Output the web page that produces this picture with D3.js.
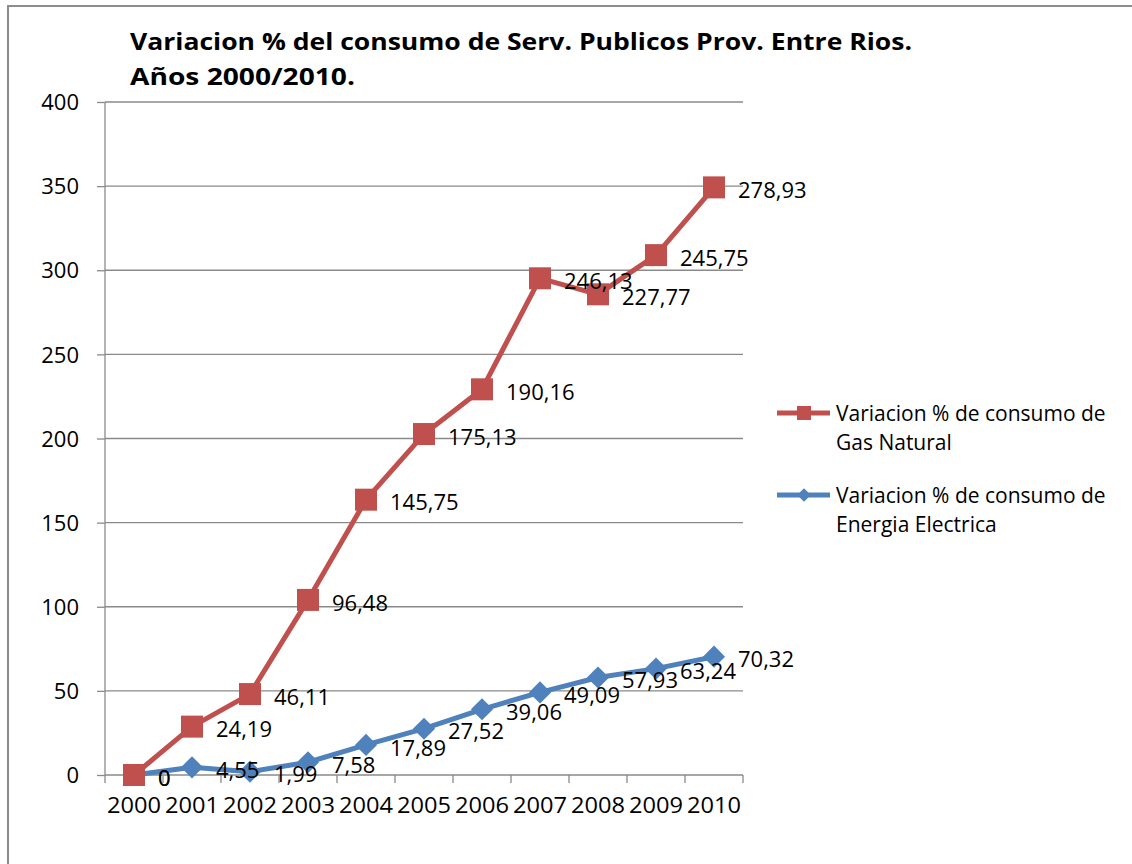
<!DOCTYPE html>
<html>
<head>
<meta charset="utf-8">
<script src="https://cdn.jsdelivr.net/npm/d3@7"></script>
<style>
  body { margin: 0; background: #fff; }
  svg text { font-family: "Open Sans", sans-serif; fill: #000; }
</style>
</head>
<body>
<svg></svg>
<script>
const years = ["2000", "2001", "2002", "2003", "2004", "2005", "2006", "2007", "2008", "2009", "2010"];
const gasNatural = [0, 24.19, 46.11, 96.48, 145.75, 175.13, 190.16, 246.13, 227.77, 245.75, 278.93];
const energiaElectrica = [0, 4.55, 1.99, 7.58, 17.89, 27.52, 39.06, 49.09, 57.93, 63.24, 70.32];
const yTicks = [0, 50, 100, 150, 200, 250, 300, 350, 400];
const seriesNames = ["Variacion % de consumo de|Gas Natural", "Variacion % de consumo de|Energia Electrica"];

const svgCanvas = d3.select("svg")
    .attr("width", 1132)
    .attr("height", 864);

// outer chart border (runs off the right and bottom edge)
svgCanvas.append("rect")
    .attr("x", 8).attr("y", 6)
    .attr("width", 1200).attr("height", 1000)
    .attr("fill", "none")
    .attr("stroke", "#8c8c8c")
    .attr("stroke-width", 2);

const plotLeft = 105, plotRight = 743, plotTop = 102, plotBottom = 775;

const x = d3.scaleBand().domain(years).range([plotLeft, plotRight]);
const y = d3.scaleLinear().domain([0, 400]).range([plotBottom, plotTop]);

// stacked line chart: gas sits on top of electricity
const table = years.map(function(yr, i) {
    return { year: yr, elec: energiaElectrica[i], gas: gasNatural[i] };
});
const stacked = d3.stack().keys(["elec", "gas"])(table);

// gridlines
svgCanvas.append("g")
    .selectAll("line")
    .data(yTicks.filter(function(t) { return t > 0; }))
    .join("line")
    .attr("x1", plotLeft).attr("x2", plotRight)
    .attr("y1", function(t) { return y(t); })
    .attr("y2", function(t) { return y(t); })
    .attr("stroke", "#8a8a8a")
    .attr("stroke-width", 1.3);

// y axis
const yAxis = svgCanvas.append("g")
    .attr("transform", "translate(" + plotLeft + ",0)")
    .call(d3.axisLeft(y).tickValues(yTicks).tickSize(8).tickPadding(18));
yAxis.selectAll("line, path").attr("stroke", "#8a8a8a").attr("stroke-width", 1.3);
yAxis.select("path").attr("d", "M0," + plotTop + "V" + plotBottom);
yAxis.selectAll("text").style("font-size", "22px").attr("dy", "0.35em");

// x axis
const xAxis = svgCanvas.append("g")
    .attr("transform", "translate(0," + plotBottom + ")")
    .call(d3.axisBottom(x).tickSize(0).tickPadding(22));
xAxis.select("path").attr("stroke", "#8a8a8a").attr("stroke-width", 1.3)
    .attr("d", "M" + plotLeft + ",0H" + plotRight);
xAxis.selectAll("text").style("font-size", "22px").attr("textLength", 54).attr("lengthAdjust", "spacingAndGlyphs");
xAxis.selectAll(".tick line").remove();
xAxis.selectAll(".edge")
    .data(years.map(function(yr) { return x(yr); }).concat([plotRight]))
    .join("line")
    .attr("class", "edge")
    .attr("x1", function(d) { return d; }).attr("x2", function(d) { return d; })
    .attr("y1", 0).attr("y2", 8)
    .attr("stroke", "#8a8a8a").attr("stroke-width", 1.3);

const cx = function(d) { return x(d.data.year) + x.bandwidth() / 2; };
const line = d3.line().x(cx).y(function(d) { return y(d[1]); });

const colors = { elec: "#4f81bd", gas: "#c0504d" };
const labelVals = { elec: energiaElectrica, gas: gasNatural };

// lines + markers, electricity first then gas on top
stacked.forEach(function(s) {
    svgCanvas.append("path")
        .datum(s)
        .attr("d", line)
        .attr("fill", "none")
        .attr("stroke", colors[s.key])
        .attr("stroke-width", 5)
        .attr("stroke-linejoin", "round");

    if (s.key === "gas") {
        svgCanvas.append("g").selectAll("rect")
            .data(s)
            .join("rect")
            .attr("x", function(d) { return cx(d) - 11; })
            .attr("y", function(d) { return y(d[1]) - 11; })
            .attr("width", 22).attr("height", 22)
            .attr("fill", colors.gas);
    } else {
        svgCanvas.append("g").selectAll("path")
            .data(s)
            .join("path")
            .attr("d", d3.symbol(d3.symbolSquare, 245))
            .attr("transform", function(d) { return "translate(" + cx(d) + "," + y(d[1]) + ") rotate(45)"; })
            .attr("fill", colors.elec);
    }
});

// data labels (show the series' own value, not the stacked total)
stacked.forEach(function(s) {
    svgCanvas.append("g").selectAll("text")
        .data(s)
        .join("text")
        .attr("x", function(d) { return cx(d) + 24; })
        .attr("y", function(d) { return y(d[1]) + 3; })
        .attr("dy", "0.35em")
        .style("font-size", "22px")
        .text(function(d, i) { return String(labelVals[s.key][i]).replace(".", ","); });
});

// title
const title = svgCanvas.append("text")
    .attr("x", 130).attr("y", 50)
    .style("font-size", "24px")
    .style("font-weight", "bold");
title.append("tspan").attr("x", 130)
    .attr("textLength", 782).attr("lengthAdjust", "spacingAndGlyphs")
    .text("Variacion % del consumo de Serv. Publicos Prov. Entre Rios.");
title.append("tspan").attr("x", 130).attr("dy", 35)
    .attr("textLength", 225).attr("lengthAdjust", "spacingAndGlyphs")
    .text("Años 2000/2010.");

// legend
const legendY = [413, 495];
["gas", "elec"].forEach(function(k, i) {
    const g = svgCanvas.append("g").attr("transform", "translate(0," + legendY[i] + ")");
    g.append("line").attr("x1", 777).attr("x2", 830).attr("y1", 0).attr("y2", 0)
        .attr("stroke", colors[k]).attr("stroke-width", 5);
    if (k === "gas") {
        g.append("rect").attr("x", 797).attr("y", -7).attr("width", 14).attr("height", 14).attr("fill", colors.gas);
    } else {
        g.append("path").attr("d", d3.symbol(d3.symbolSquare, 90))
            .attr("transform", "translate(804,0) rotate(45)").attr("fill", colors.elec);
    }
    const t = g.append("text").attr("x", 836).attr("y", 8).style("font-size", "21px");
    seriesNames[i].split("|").forEach(function(part, j) {
        t.append("tspan").attr("x", 836).attr("dy", j === 0 ? 0 : 29).text(part);
    });
});
</script>
</body>
</html>
